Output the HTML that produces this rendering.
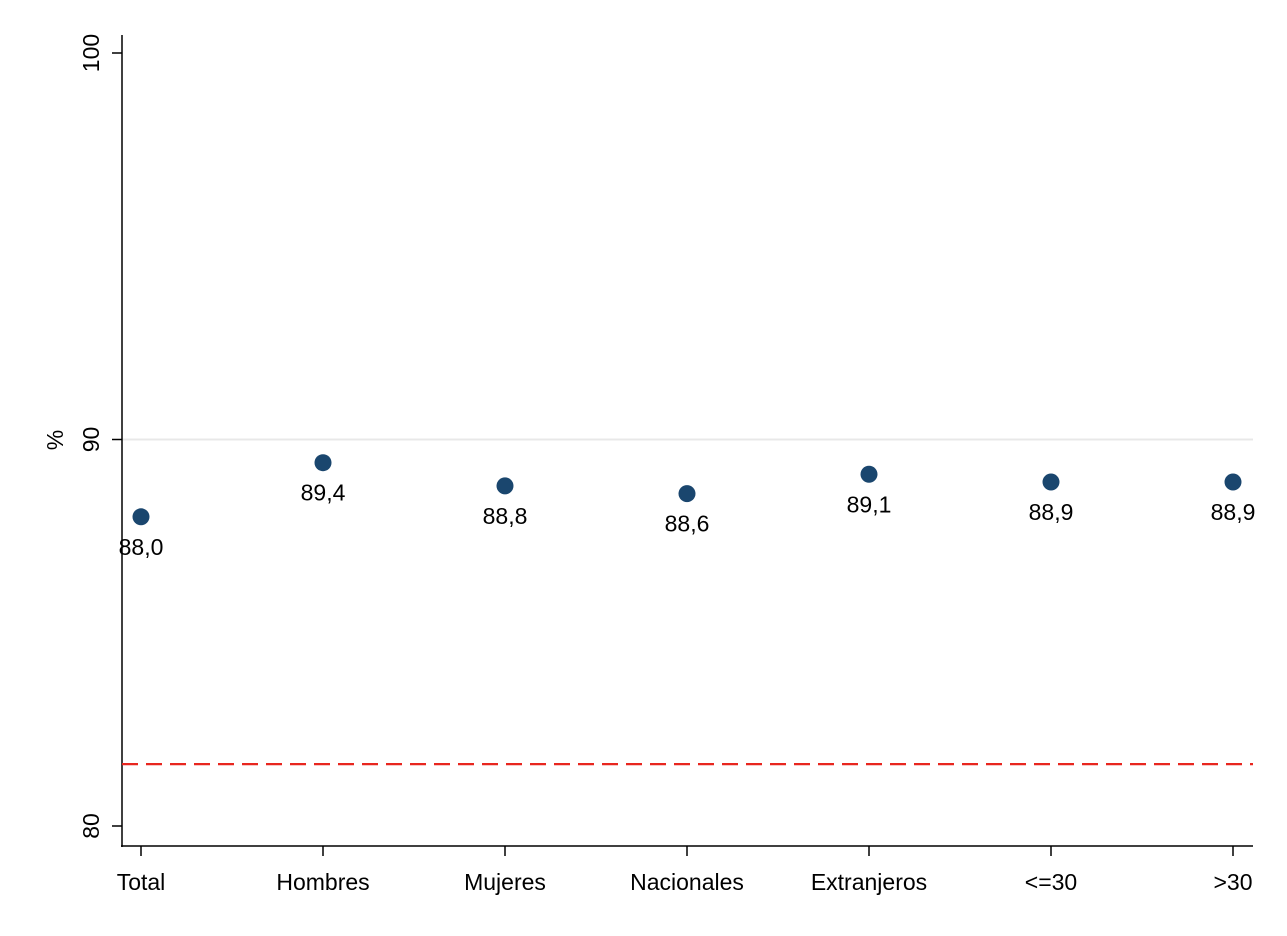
<!DOCTYPE html>
<html><head><meta charset="utf-8"><style>
body{margin:0;background:#fff;}
svg{display:block;font-family:"Liberation Sans",Arial,sans-serif;}
</style></head><body>
<svg id="chart" width="1287" height="936" viewBox="0 0 1287 936">
<rect x="0" y="0" width="1287" height="936" fill="#fff"/>
<g id="g"></g>
</svg>
<script>
const categories=["Total","Hombres","Mujeres","Nacionales","Extranjeros","<=30",">30"];
const values=[88.0,89.4,88.8,88.6,89.1,88.9,88.9];
const labels=["88,0","89,4","88,8","88,6","89,1","88,9","88,9"];
const yTicks=[80,90,100];
const refLine=81.6;
const gridLines=[90];

const NS="http://www.w3.org/2000/svg";
const g=document.getElementById('g');
const y=v=>826-(v-80)*38.65;
const x=i=>141+i*182;
function mk(t,a,txt){const e=document.createElementNS(NS,t);for(const k in a)e.setAttribute(k,a[k]);if(txt!=null)e.textContent=txt;g.appendChild(e);return e;}

gridLines.forEach(v=>{const e=mk('line',{x1:122,x2:1253,y1:y(v),y2:y(v),stroke:'#e8e8e8','stroke-width':2});

});

let e=mk('line',{x1:122,x2:122,y1:35,y2:847,stroke:'#000','stroke-width':1.5});


e=mk('line',{x1:121,x2:1253,y1:846,y2:846,stroke:'#000','stroke-width':1.5});



yTicks.forEach(v=>{const t=mk('line',{x1:112,x2:122,y1:y(v),y2:y(v),stroke:'#000','stroke-width':1.5});


const l=mk('text',{x:0,y:0,'font-size':23,'text-anchor':'middle',transform:`translate(99,${y(v)}) rotate(-90)`},String(v));

});

e=mk('text',{x:0,y:0,'font-size':23,'text-anchor':'middle',transform:`translate(63,440) rotate(-90)`},'%');



e=mk('line',{x1:122,x2:1253,y1:y(refLine),y2:y(refLine),stroke:'#e8261f','stroke-width':2.2,'stroke-dasharray':'16,8'});



categories.forEach((c,i)=>{
const t=mk('line',{x1:x(i),x2:x(i),y1:846,y2:856,stroke:'#000','stroke-width':1.5});


const l=mk('text',{x:x(i),y:890,'font-size':23,'text-anchor':'middle'},c);


const p=mk('circle',{cx:x(i),cy:y(values[i]),r:8.5,fill:'#1a466e'});


const v=mk('text',{x:x(i),y:y(values[i])+38,'font-size':23,'text-anchor':'middle'},labels[i]);


});
</script>
</body></html>
